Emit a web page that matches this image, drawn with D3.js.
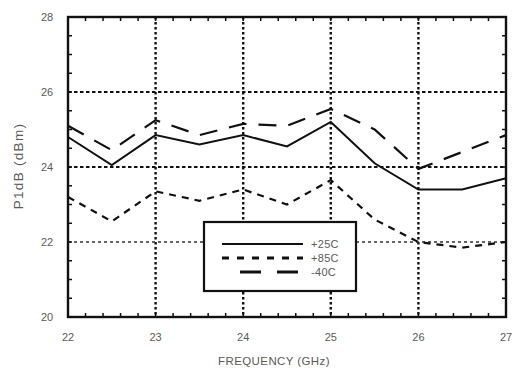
<!DOCTYPE html>
<html><head><meta charset="utf-8">
<script src="https://cdn.jsdelivr.net/npm/d3@7"></script>
<style>body{margin:0;background:#fff}svg{display:block}</style>
</head><body><svg id="c" width="514" height="372"></svg>
<script>
const freqs = [22, 22.5, 23, 23.5, 24, 24.5, 25, 25.5, 26, 26.5, 27];
const p25 = [24.8, 24.05, 24.85, 24.6, 24.85, 24.55, 25.2, 24.1, 23.4, 23.4, 23.7];
const p85 = [23.2, 22.55, 23.35, 23.1, 23.4, 23.0, 23.65, 22.6, 22.0, 21.85, 22.0];
const m40 = [25.1, 24.45, 25.25, 24.85, 25.15, 25.1, 25.55, 25.0, 23.95, 24.4, 24.85];
const xTicks = [22, 23, 24, 25, 26, 27];
const yTicks = [20, 22, 24, 26, 28];
const seriesNames = ["+25C", "+85C", "-40C"];

const svg = d3.select("#c");
const x = d3.scaleLinear().domain([22, 27]).range([68, 506]);
const y = d3.scaleLinear().domain([20, 28]).range([317, 17]);
const txt = "#5a5a5a";
const ff = "Liberation Sans, Arial, sans-serif";

// grid
svg.append("g").selectAll("line").data([23,24,25,26]).join("line")
  .attr("x1", d=>x(d)).attr("x2", d=>x(d)).attr("y1", y(28)).attr("y2", y(20))
  .attr("stroke", "#111").attr("stroke-width", 2.4).attr("stroke-dasharray", "2.5,2.5");
svg.append("g").selectAll("line").data([24,26]).join("line")
  .attr("x1", x(22)).attr("x2", x(27)).attr("y1", d=>y(d)).attr("y2", d=>y(d))
  .attr("stroke", "#111").attr("stroke-width", 2.2).attr("stroke-dasharray", "3.5,2.5");
svg.append("line").attr("x1", x(22)).attr("x2", x(27)).attr("y1", y(22)).attr("y2", y(22))
  .attr("stroke", "#333").attr("stroke-width", 1.3).attr("stroke-dasharray", "3,3");

// minor ticks
const xm = d3.range(22, 27.001, 0.2);
const ym = d3.range(20, 28.001, 0.5);
const tk = svg.append("g").attr("stroke", "#111").attr("stroke-width", 1.5);
tk.selectAll(".xb").data(xm).join("line").attr("x1", d=>x(d)).attr("x2", d=>x(d)).attr("y1", y(20)).attr("y2", y(20)-4);
tk.selectAll(".xt").data(xm).join("line").attr("x1", d=>x(d)).attr("x2", d=>x(d)).attr("y1", y(28)).attr("y2", y(28)+4);
tk.selectAll(".yl").data(ym).join("line").attr("y1", d=>y(d)).attr("y2", d=>y(d)).attr("x1", x(22)).attr("x2", x(22)+4);
tk.selectAll(".yr").data(ym).join("line").attr("y1", d=>y(d)).attr("y2", d=>y(d)).attr("x1", x(27)).attr("x2", x(27)-4);

// frame
svg.append("rect").attr("x", x(22)).attr("y", y(28)).attr("width", x(27)-x(22)).attr("height", y(20)-y(28))
  .attr("fill", "none").attr("stroke", "#111").attr("stroke-width", 2.4);

// data
const line = d3.line().x((d,i)=>x(freqs[i])).y(d=>y(d));
const styles = [
  {data: p25, dash: null, w: 2},
  {data: p85, dash: "7,6", w: 2.2},
  {data: m40, dash: "18,12", w: 2.2}
];
svg.append("g").selectAll("path").data(styles).join("path")
  .attr("d", d=>line(d.data)).attr("fill", "none").attr("stroke", "#111")
  .attr("stroke-width", d=>d.w).attr("stroke-dasharray", d=>d.dash);

// axes labels
svg.append("g").selectAll("text").data(xTicks).join("text")
  .attr("x", d=>x(d)).attr("y", 341).attr("text-anchor", "middle")
  .attr("font-family", ff).attr("font-size", 11).attr("fill", txt).text(d=>d);
svg.append("g").selectAll("text").data(yTicks).join("text")
  .attr("x", 47).attr("y", d=>y(d)+4).attr("text-anchor", "middle")
  .attr("font-family", ff).attr("font-size", 11).attr("fill", txt).text(d=>d);
svg.append("text").attr("x", 274).attr("y", 365).attr("text-anchor", "middle")
  .attr("font-family", ff).attr("font-size", 11.5).attr("letter-spacing", 0.4).attr("fill", txt).text("FREQUENCY (GHz)");
svg.append("text").attr("transform", "translate(23,166) rotate(-90)").attr("text-anchor", "middle")
  .attr("font-family", ff).attr("font-size", 13.5).attr("letter-spacing", 1.3).attr("fill", txt).text("P1dB (dBm)");

// legend
const lg = svg.append("g");
lg.append("rect").attr("x", 204).attr("y", 222).attr("width", 152).attr("height", 69)
  .attr("fill", "#fff").attr("stroke", "#111").attr("stroke-width", 2.2);
const lrows = [{x1: 222, y: 244}, {x1: 222, y: 258}, {x1: 240, y: 272}];
lg.selectAll("line").data(styles).join("line")
  .attr("x1", (d,i)=>lrows[i].x1).attr("x2", 303).attr("y1", (d,i)=>lrows[i].y).attr("y2", (d,i)=>lrows[i].y)
  .attr("stroke", "#111").attr("stroke-width", (d,i)=>i==0?2:3)
  .attr("stroke-dasharray", (d,i)=>i==1?"7,8":(i==2?"21,16":null));
lg.selectAll("text").data(seriesNames).join("text")
  .attr("x", 311).attr("y", (d,i)=>lrows[i].y+4)
  .attr("font-family", ff).attr("font-size", 11).attr("fill", txt)
  .attr("letter-spacing", 0.3).text(d=>d);
</script></body></html>
